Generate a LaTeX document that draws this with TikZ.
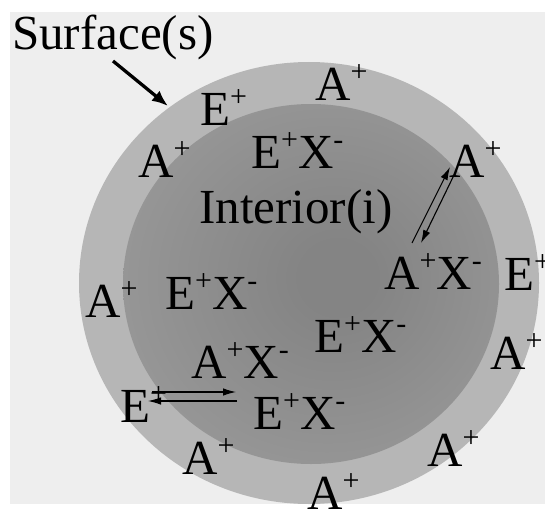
\documentclass[tikz,border=0pt]{standalone}
\usepackage{fontspec}
\setmainfont{Liberation Serif}
\usetikzlibrary{arrows.meta}
\definecolor{bgc}{HTML}{EEEEEE}
\definecolor{ringc}{HTML}{B6B6B6}
\definecolor{inedge}{HTML}{A9A9A9}
\definecolor{incore}{HTML}{848484}
\pgfdeclareradialshading{coreshade}{\pgfpoint{4bp}{1bp}}{color(0bp)=(incore); color(5bp)=(incore); color(50bp)=(inedge)}
\newcommand{\upsc}[1]{\raisebox{0.37em}{\fontsize{30}{30}\selectfont #1}}
\tikzset{
  lbl/.style={inner sep=0pt, anchor=base west, font=\fontsize{49}{52}\selectfont},
  thinarrow/.style={line width=1.1pt, -{Latex[length=13pt,width=7.5pt]}},
  bigarrow/.style={line width=3.3pt, -{Latex[length=16pt,width=13pt]}}
}
\begin{document}
\begin{tikzpicture}[x=1pt,y=-1pt]
\useasboundingbox (0,0) rectangle (545,508);
\fill[white] (0,0) rectangle (545,508);
\fill[bgc] (10,12) rectangle (545,504);
% particle
\fill[ringc] (309,283) ellipse [x radius=230, y radius=221];
\shade[shading=coreshade] (311,284) ellipse [x radius=188, y radius=180];
% labels
\node[lbl] (surf) at (12,50) {Surface(s)};
\node[lbl] (interior) at (199,223) {Interior(i)};
\node[lbl] (a1) at (315,100) {A\upsc{+}};
\node[lbl] (e1) at (200,125) {E\upsc{+}};
\node[lbl] (a2) at (138,177) {A\upsc{+}};
\node[lbl] (ex1) at (251,168) {E\upsc{+}X\upsc{-}};
\node[lbl] (a3) at (449,177) {A\upsc{+}};
\node[lbl] (ax1) at (384,289) {A\upsc{+}X\upsc{-}};
\node[lbl] (e2) at (504,290) {E\upsc{+}};
\node[lbl] (a4) at (85,317) {A\upsc{+}};
\node[lbl] (ex2) at (165,309) {E\upsc{+}X\upsc{-}};
\node[lbl] (ex3) at (314,352) {E\upsc{+}X\upsc{-}};
\node[lbl] (ax2) at (191,378) {A\upsc{+}X\upsc{-}};
\node[lbl] (a5) at (490,369) {A\upsc{+}};
\node[lbl] (e3) at (120,422) {E\upsc{+}};
\node[lbl] (ex4) at (253,429) {E\upsc{+}X\upsc{-}};
\node[lbl] (a6) at (182,474) {A\upsc{+}};
\node[lbl] (a7) at (427,466) {A\upsc{+}};
\node[lbl] (a8) at (307,509) {A\upsc{+}};
% arrow end points
\coordinate (sfrom) at (113,61);
\coordinate (sto) at (168,106);
\coordinate (r1a) at (412,243);
\coordinate (r1b) at (450,167);
\coordinate (r2a) at (455,173);
\coordinate (r2b) at (421,243);
\coordinate (b1a) at (152,392);
\coordinate (b1b) at (236,392);
\coordinate (b2a) at (237,401);
\coordinate (b2b) at (148,401);
% connectors
\draw[bigarrow] (sfrom) -- (sto);
\draw[thinarrow] (r1a) -- (r1b);
\draw[thinarrow] (r2a) -- (r2b);
\draw[thinarrow] (b1a) -- (b1b);
\draw[thinarrow] (b2a) -- (b2b);
\end{tikzpicture}
\end{document}
